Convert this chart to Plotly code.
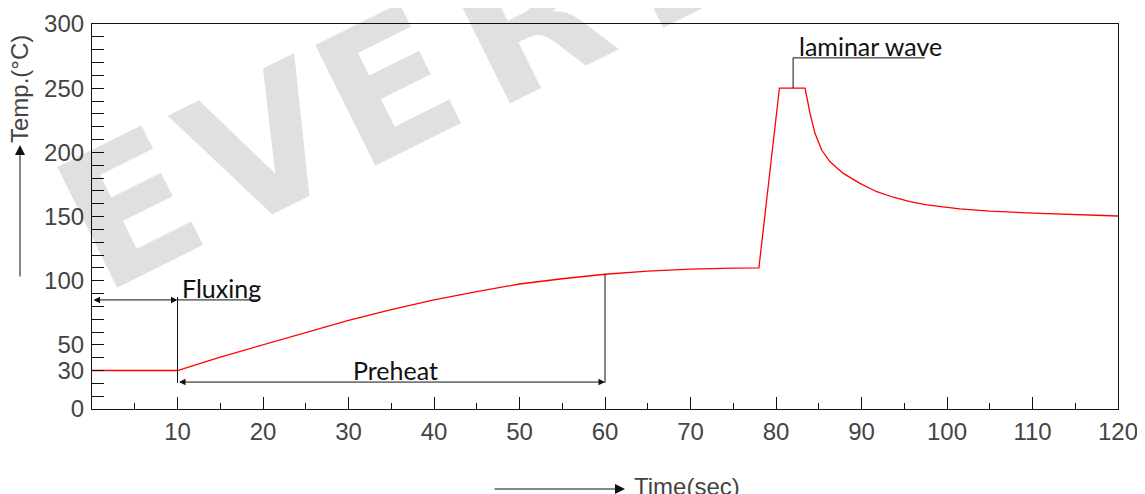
import plotly.graph_objects as go

# ---- data ----
time_sec = [0, 10, 15, 20, 25, 30, 35, 40, 45, 50, 55, 60, 65, 70, 75, 78, 80.4, 83.4,
            83.98, 84.56, 85.34, 86.32, 87.87, 89.82, 91.78, 93.72, 95.67, 97.63, 101.5,
            105, 110, 115, 120]
temp_c = [30, 30, 40.5, 50, 60, 69, 77.5, 85, 91.5, 97.4, 101.5, 105, 107.5, 109, 109.8, 110, 250, 250,
          230.4, 214.8, 201.8, 192.6, 183.6, 175.8, 169.3, 165.0, 161.6, 159.0, 155.9,
          154.2, 152.6, 151.3, 150.4]

x_tick_vals = [10, 20, 30, 40, 50, 60, 70, 80, 90, 100, 110, 120]
x_tick_text = ["10", "20", "30", "40", "50", "60", "70", "80", "90", "100", "110", "120"]
y_tick_vals = list(range(0, 301, 10))
y_labels = {0: "0", 30: "30", 50: "50", 100: "100", 150: "150", 200: "200", 250: "250", 300: "300"}
y_tick_text = [y_labels.get(v, "") for v in y_tick_vals]

fluxing_start, fluxing_end, fluxing_level = 0, 10, 85
preheat_start, preheat_end, preheat_level = 10, 60, 21
preheat_top = 105
laminar_x, laminar_top, laminar_end = 82.0, 273.6, 97.4

watermark_letters = ["E", "V", "E", "R", "E"]

fig = go.Figure()
fig.add_trace(go.Scatter(x=time_sec, y=temp_c, mode="lines",
                         line=dict(color="#ff0000", width=1.3), hoverinfo="skip"))

black = "#111111"
# helper lines
fig.add_shape(type="line", x0=fluxing_end, x1=fluxing_end, y0=87.3, y1=20.3,
              line=dict(color=black, width=1))
fig.add_shape(type="line", x0=fluxing_end, x1=19.4, y0=fluxing_level, y1=fluxing_level,
              line=dict(color=black, width=1))
fig.add_shape(type="line", x0=preheat_end, x1=preheat_end, y0=preheat_top, y1=20.3,
              line=dict(color=black, width=1))
fig.add_shape(type="line", x0=laminar_x, x1=laminar_x, y0=250, y1=laminar_top,
              line=dict(color=black, width=1))
fig.add_shape(type="line", x0=laminar_x, x1=laminar_end, y0=laminar_top, y1=laminar_top,
              line=dict(color=black, width=1))

ann = []
# watermark, letter by letter along a slanted baseline (page-pixel centres)
wm_centres = [(130, 210), (262, 148), (388, 88), (530, 22), (676, -50)]
for ch, (px, py) in zip(watermark_letters, wm_centres):
    ann.append(dict(xref="paper", yref="paper", x=(px - 92) / 1026, y=(409 - py) / 385,
                    text="<b>" + ch + "</b>", showarrow=False, textangle=-26.4,
                    font=dict(family="DejaVu Sans", size=185, color="rgba(0,0,0,0.12)"),
                    xanchor="center", yanchor="middle"))
# double arrows
for (a, b, lvl) in [(fluxing_start, fluxing_end, fluxing_level), (preheat_start, preheat_end, preheat_level)]:
    ann.append(dict(x=b, y=lvl, ax=a, ay=lvl, xref="x", yref="y", axref="x", ayref="y",
                    text="", showarrow=True, arrowhead=2, startarrowhead=2, arrowside="end+start",
                    arrowsize=1.3, startarrowsize=1.3, arrowwidth=1, arrowcolor=black))
txtfont = dict(family="Lato", size=25, color=black)
ann.append(dict(x=10.3, y=fluxing_level, text="Fluxing", showarrow=False, xanchor="left",
                yanchor="bottom", font=txtfont, xref="x", yref="y", yshift=-5))
ann.append(dict(x=35.5, y=preheat_level, text="Preheat", showarrow=False, xanchor="center",
                yanchor="bottom", font=txtfont, xref="x", yref="y", yshift=-5))
ann.append(dict(x=82.4, y=laminar_top, text="laminar wave", showarrow=False, xanchor="left",
                yanchor="bottom", font=txtfont, xref="x", yref="y", yshift=-5))
# axis titles with arrows
axfont = dict(family="Liberation Sans", size=24, color="#444444")
ann.append(dict(xref="paper", yref="paper", x=(20 - 92) / 1026, y=(409 - 89) / 385, text="Temp.(°C)",
                textangle=-90, showarrow=False, font=axfont, xanchor="center", yanchor="middle"))
ann.append(dict(xref="paper", yref="paper", x=(20 - 92) / 1026, y=(409 - 145) / 385, ax=0, ay=133,
                text="", showarrow=True, arrowhead=2, arrowsize=2, arrowwidth=1, arrowcolor=black))
ann.append(dict(xref="paper", yref="paper", x=(632 - 92) / 1026, y=(409 - 486) / 385, text="Time(sec)",
                showarrow=False, font=axfont, xanchor="left", yanchor="middle"))
ann.append(dict(xref="paper", yref="paper", x=(625 - 92) / 1026, y=(409 - 489) / 385, ax=-132, ay=0,
                text="", showarrow=True, arrowhead=2, arrowsize=2, arrowwidth=1, arrowcolor=black))

# page has an 8px body margin, so the figure is sized/offset to land on the same pixels
fig.update_layout(
    width=1137, height=486, margin=dict(l=84, r=27, t=16, b=85, autoexpand=False),
    paper_bgcolor="white", plot_bgcolor="white", showlegend=False,
    annotations=ann,
)
fig.update_xaxes(range=[0, 120], showgrid=False, zeroline=False, showline=True, linecolor=black,
                 linewidth=1.2, mirror=True, tickmode="array", tickvals=x_tick_vals, ticktext=x_tick_text,
                 ticks="inside", ticklen=12, tickcolor=black, tickwidth=1, automargin=False,
                 minor=dict(tickmode="linear", tick0=0, dtick=5, ticks="inside", ticklen=6,
                            tickcolor=black, tickwidth=1),
                 tickfont=axfont, ticklabelstandoff=1)
fig.update_yaxes(range=[0, 300], showgrid=False, zeroline=False, showline=True, linecolor=black,
                 linewidth=1.2, mirror=True, tickmode="array", tickvals=y_tick_vals, ticktext=y_tick_text,
                 ticks="inside", ticklen=12, tickcolor=black, tickwidth=1, automargin=False,
                 tickfont=axfont, ticklabelstandoff=2)

fig.write_html("out.html")
